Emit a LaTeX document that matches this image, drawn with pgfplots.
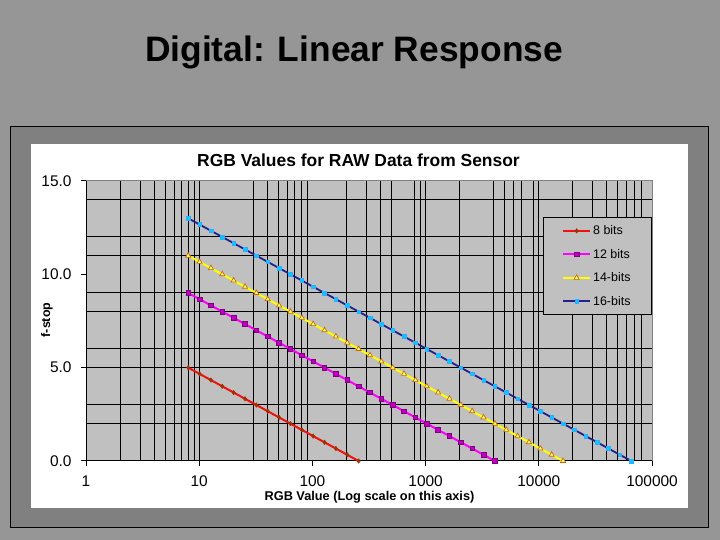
\documentclass[border=0pt]{standalone}
\usepackage{fontspec}
\setmainfont{Liberation Sans}
\usepackage{pgfplots}
\pgfplotsset{compat=1.18}
\usepackage{pgfplotstable}
\definecolor{slidebg}{HTML}{969696}
\definecolor{framebg}{HTML}{808080}
\definecolor{plotbg}{HTML}{C0C0C0}
\definecolor{c8}{HTML}{F01010}
\definecolor{m8}{HTML}{993300}
\definecolor{c12}{HTML}{FF00FF}
\definecolor{m12}{HTML}{C000C0}
\definecolor{e12}{HTML}{800080}
\definecolor{c14}{HTML}{FFFF00}
\definecolor{m14}{HTML}{FFFF80}
\definecolor{e14}{HTML}{CC6600}
\definecolor{c16}{HTML}{22228A}
\definecolor{m16}{HTML}{00CCFF}
\definecolor{e16}{HTML}{33AAFF}

\pgfplotstableread{
x b8 b12 b14 b16
8 5 9 11 13
10.079 4.667 8.667 10.667 12.667
12.699 4.333 8.333 10.333 12.333
16 4 8 10 12
20.159 3.667 7.667 9.667 11.667
25.398 3.333 7.333 9.333 11.333
32 3 7 9 11
40.317 2.667 6.667 8.667 10.667
50.797 2.333 6.333 8.333 10.333
64 2 6 8 10
80.635 1.667 5.667 7.667 9.667
101.59 1.333 5.333 7.333 9.333
128 1 5 7 9
161.27 0.667 4.667 6.667 8.667
203.19 0.333 4.333 6.333 8.333
256 0 4 6 8
322.54 nan 3.667 5.667 7.667
406.37 nan 3.333 5.333 7.333
512 nan 3 5 7
645.08 nan 2.667 4.667 6.667
812.75 nan 2.333 4.333 6.333
1024 nan 2 4 6
1290.2 nan 1.667 3.667 5.667
1625.5 nan 1.333 3.333 5.333
2048 nan 1 3 5
2580.3 nan 0.667 2.667 4.667
3251.0 nan 0.333 2.333 4.333
4096 nan 0 2 4
5160.6 nan nan 1.667 3.667
6502.0 nan nan 1.333 3.333
8192 nan nan 1 3
10321 nan nan 0.667 2.667
13004 nan nan 0.333 2.333
16384 nan nan 0 2
20643 nan nan nan 1.667
26008 nan nan nan 1.333
32768 nan nan nan 1
41285 nan nan nan 0.667
52016 nan nan nan 0.333
65536 nan nan nan 0
}\datatable

\begin{document}
\begin{tikzpicture}[x=1bp,y=1bp]
\useasboundingbox (0,0) rectangle (720,540);
\fill[slidebg] (0,0) rectangle (720,540);
\filldraw[fill=framebg, draw=black, line width=1bp] (10.5,12) rectangle (708,413.5);
\fill[white] (31,32) rectangle (688,396);
\fill[plotbg] (86,79) rectangle (652,359);
\draw[framebg, line width=1bp] (86,359) -- (652,359) -- (652,79);
\node[font=\bfseries\fontsize{35.5}{40}\selectfont, text=black] at (354,488) {Digital: Linear Response};
\node[font=\bfseries\fontsize{17.5}{20}\selectfont] at (358.5,380) {RGB Values for RAW Data from Sensor};
\node[font=\bfseries\fontsize{12.8}{15}\selectfont] at (369.5,43) {RGB Value (Log scale on this axis)};
\node[font=\bfseries\fontsize{12.5}{15}\selectfont, rotate=90] at (47,220) {f-stop};
\begin{axis}[
  at={(86bp,79bp)}, anchor=south west,
  scale only axis, width=566bp, height=280bp,
  xmode=log, xmin=1, xmax=100000, ymin=0, ymax=15,
  axis x line*=bottom, axis y line*=left,
  axis line style={black, line width=1bp},
  tick align=outside, major tick length=5bp,
  tick style={black, line width=1bp},
  xminorticks=false, yminorticks=false,
  xtick={1,10,100,1000,10000,100000},
  xticklabels={1,10,100,1000,10000,100000},
  ytick={0,5,10,15},
  yticklabels={0.0,5.0,10.0,15.0},
  ticklabel style={font=\fontsize{15.5}{18}\selectfont},
  xticklabel style={yshift=-6bp},
  yticklabel style={xshift=-6bp},
  /pgf/number format/assume math mode=true,
  extra x ticks={2,3,4,5,6,7,8,9,10,30,40,50,60,70,80,90,200,300,400,500,800,900,1000,2000,4000,5000,6000,7000,9000,10000,20000,30000,40000,50000,60000,70000,80000},
  extra x tick labels={},
  extra x tick style={grid=major, major tick length=0pt},
  extra y ticks={2,3,5,6,8,9,11,12,14},
  extra y tick labels={},
  extra y tick style={grid=major, major tick length=0pt},
  major grid style={black, line width=1bp},
  clip=false,
  legend style={at={(1,0.871)}, anchor=north east, fill=plotbg, draw=black, line width=1bp,
    font=\fontsize{12.5}{15}\selectfont, inner xsep=19bp, inner ysep=6bp, row sep=9bp,
    cells={anchor=west}},
  legend image code/.code={\draw[mark repeat=2,mark phase=2] plot coordinates {(0bp,0bp) (13.5bp,0bp) (27bp,0bp)};},
]
\addplot[c8, line width=2bp, mark=diamond*, mark size=2.2bp, mark options={fill=m8, draw=m8, line width=0.5bp}] table[x=x, y=b8] {\datatable};
\addlegendentry{8 bits}
\addplot[c12, line width=2bp, mark=square*, mark size=2.3bp, mark options={fill=m12, draw=e12, line width=0.7bp}] table[x=x, y=b12] {\datatable};
\addlegendentry{12 bits}
\addplot[c14, line width=2bp, mark=triangle*, mark size=3bp, mark options={fill=m14, draw=e14, line width=0.7bp}] table[x=x, y=b14] {\datatable};
\addlegendentry{14-bits}
\addplot[c16, line width=1.8bp, mark=square*, mark size=1.8bp, mark options={fill=m16, draw=e16, line width=0.5bp}] table[x=x, y=b16] {\datatable};
\addlegendentry{16-bits}
\end{axis}
\end{tikzpicture}
\end{document}
